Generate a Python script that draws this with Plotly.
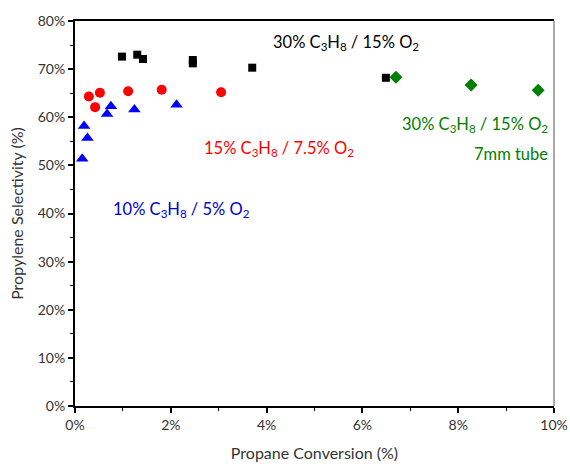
import plotly.graph_objects as go

# Data (propane conversion %, propylene selectivity %)
blue_x = [0.15, 0.26, 0.19, 0.67, 0.75, 1.24, 2.12]
blue_y = [51.4, 55.7, 58.2, 60.7, 62.3, 61.6, 62.6]

red_x = [0.29, 0.42, 0.52, 1.11, 1.81, 3.05]
red_y = [64.3, 62.1, 65.1, 65.4, 65.7, 65.2]

black_x = [0.98, 1.30, 1.42, 2.46, 2.46, 3.70, 6.49]
black_y = [72.6, 73.0, 72.1, 71.9, 71.2, 70.3, 68.2]

green_x = [6.70, 8.27, 9.67]
green_y = [68.3, 66.7, 65.6]

x_ticks = [0, 2, 4, 6, 8, 10]
x_tick_labels = ["0%", "2%", "4%", "6%", "8%", "10%"]
y_ticks = [0, 10, 20, 30, 40, 50, 60, 70, 80]
y_tick_labels = ["0%", "10%", "20%", "30%", "40%", "50%", "60%", "70%", "80%"]

FONT = "Lato, 'Open Sans', sans-serif"

fig = go.Figure()
fig.add_trace(go.Scatter(x=blue_x, y=blue_y, mode="markers",
                         marker=dict(symbol="triangle-up", size=11, color="#0000ff")))
fig.add_trace(go.Scatter(x=red_x, y=red_y, mode="markers",
                         marker=dict(symbol="circle", size=10, color="#ff0000")))
fig.add_trace(go.Scatter(x=black_x, y=black_y, mode="markers",
                         marker=dict(symbol="square", size=8, color="#000000")))
fig.add_trace(go.Scatter(x=green_x, y=green_y, mode="markers",
                         marker=dict(symbol="diamond", size=10, color="#008000")))

ann_font = 16.5
fig.add_annotation(x=4.1, y=75.6, xref="x", yref="y", xanchor="left", yanchor="middle",
                   text="30% C<sub>3</sub>H<sub>8</sub> / 15% O<sub>2</sub>", showarrow=False,
                   font=dict(family=FONT, size=ann_font, color="#000000"))
fig.add_annotation(x=2.65, y=53.5, xref="x", yref="y", xanchor="left", yanchor="middle",
                   text="15% C<sub>3</sub>H<sub>8</sub> / 7.5% O<sub>2</sub>", showarrow=False,
                   font=dict(family=FONT, size=ann_font, color="#ff0000"))
fig.add_annotation(x=9.92, y=58.4, xref="x", yref="y", xanchor="right", yanchor="middle",
                   text="30% C<sub>3</sub>H<sub>8</sub> / 15% O<sub>2</sub>", showarrow=False,
                   font=dict(family=FONT, size=ann_font, color="#008000"))
fig.add_annotation(x=9.92, y=52.4, xref="x", yref="y", xanchor="right", yanchor="middle",
                   text="7mm tube", showarrow=False,
                   font=dict(family=FONT, size=ann_font, color="#008000"))
fig.add_annotation(x=0.75, y=40.8, xref="x", yref="y", xanchor="left", yanchor="middle",
                   text="10% C<sub>3</sub>H<sub>8</sub> / 5% O<sub>2</sub>", showarrow=False,
                   font=dict(family=FONT, size=ann_font, color="#0000cc"))

# right border (grey, thinner)
fig.add_shape(type="line", xref="paper", yref="paper", x0=1, x1=1, y0=0, y1=1,
              line=dict(color="#555555", width=1))

fig.update_layout(
    width=570, height=468,
    margin=dict(l=75, r=16, t=21, b=62),
    paper_bgcolor="white", plot_bgcolor="white",
    showlegend=False,
    font=dict(family=FONT, size=14, color="#333333"),
    xaxis=dict(range=[0, 10], tickvals=x_ticks, ticktext=x_tick_labels,
               automargin=False,
               showgrid=False, zeroline=False,
               showline=True, linecolor="black", linewidth=2, mirror=True,
               ticks="outside", ticklen=5, tickwidth=1.5, tickcolor="black",
               minor=dict(dtick=1, ticks="outside", ticklen=3, tickcolor="black", tickwidth=1),
               title=dict(text="Propane Conversion (%)", font=dict(size=16, family=FONT), standoff=16),
               tickfont=dict(size=14, family=FONT)),
    yaxis=dict(range=[0, 80], tickvals=y_ticks, ticktext=y_tick_labels,
               automargin=False,
               showgrid=False, zeroline=False,
               showline=True, linecolor="black", linewidth=2,
               ticks="outside", ticklen=5, tickwidth=1.5, tickcolor="black",
               minor=dict(dtick=5, ticks="outside", ticklen=3, tickcolor="black", tickwidth=1),
               title=dict(text="Propylene Selectivity (%)", font=dict(size=16, family=FONT), standoff=10),
               tickfont=dict(size=14, family=FONT)),
)

fig.write_html(
    "out.html",
    config={"displayModeBar": False},
    post_script="document.body.style.margin='0';document.body.style.overflow='hidden';",
)
